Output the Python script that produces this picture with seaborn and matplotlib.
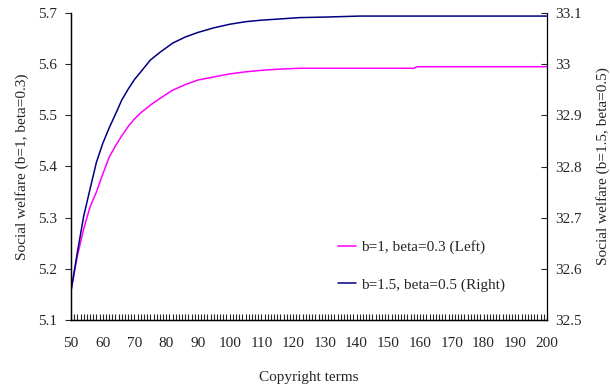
import matplotlib
matplotlib.use("Agg")
import matplotlib.pyplot as plt
import seaborn as sns
import pandas as pd
import numpy as np

# Data
terms = [50, 52, 54, 56, 58, 60, 62, 64, 66, 68, 70, 72, 75, 78, 82, 86, 90,
         95, 100, 105, 110, 115, 122, 130, 141, 158, 159, 200]
left_welfare = [5.157, 5.225, 5.278, 5.321, 5.350, 5.385, 5.418, 5.440, 5.460,
                5.478, 5.493, 5.505, 5.520, 5.533, 5.549, 5.560, 5.569, 5.575,
                5.581, 5.585, 5.588, 5.590, 5.592, 5.592, 5.592, 5.592, 5.595, 5.595]
right_welfare = [32.557, 32.632, 32.703, 32.756, 32.808, 32.845, 32.875, 32.902,
                 32.930, 32.951, 32.970, 32.985, 33.008, 33.023, 33.041, 33.053,
                 33.062, 33.071, 33.078, 33.083, 33.086, 33.088, 33.091, 33.092,
                 33.094, 33.094, 33.094, 33.094]
left_label = "b=1, beta=0.3 (Left)"
right_label = "b=1.5, beta=0.5 (Right)"
x_ticks = list(range(50, 201, 10))
left_ticks = [5.1, 5.2, 5.3, 5.4, 5.5, 5.6, 5.7]
right_ticks = [32.5, 32.6, 32.7, 32.8, 32.9, 33.0, 33.1]
right_tick_labels = ["32.5", "32.6", "32.7", "32.8", "32.9", "33", "33.1"]

sns.set_style("white")
plt.rcParams["font.family"] = ["Liberation Serif", "DejaVu Serif"]

df = pd.DataFrame({"term": terms, "left": left_welfare, "right": right_welfare})

fig, ax = plt.subplots(figsize=(6.10, 3.89), dpi=100)
fig.subplots_adjust(left=71/610, right=547/610, top=1-13/389, bottom=1-320/389)
ax2 = ax.twinx()

sns.lineplot(data=df, x="term", y="left", ax=ax, color="#FF00FF", lw=1.1,
             label=left_label, legend=False)
sns.lineplot(data=df, x="term", y="right", ax=ax2, color="#000080", lw=1.1,
             label=right_label, legend=False)

ax.set_xlim(50, 200)
ax.set_ylim(5.1, 5.7)
ax2.set_ylim(32.5, 33.1)

ax.set_xticks(x_ticks)
ax.set_xticks(np.arange(50, 201, 1), minor=True)
ax.set_yticks(left_ticks)
ax.set_yticklabels([f"{v:.1f}" for v in left_ticks])
ax2.set_yticks(right_ticks)
ax2.set_yticklabels(right_tick_labels)

fs = 11
ax.tick_params(axis="x", which="both", direction="in", length=4, width=0.8,
               pad=12.5, labelsize=fs, bottom=True, top=False)
ax.tick_params(axis="y", which="major", direction="out", length=4, width=0.8,
               pad=6, labelsize=fs, left=True, right=False)
ax2.tick_params(axis="y", which="major", direction="in", length=4, width=0.8,
                pad=6, labelsize=fs, right=True, left=False)

for a in (ax, ax2):
    a.spines["top"].set_visible(False)
    for s in ("left", "right", "bottom"):
        a.spines[s].set_color("black")
        a.spines[s].set_linewidth(0.9)
ax.spines["right"].set_visible(False)

ax.set_xlabel("Copyright terms", fontsize=fs, labelpad=15)
ax.set_ylabel("Social welfare (b=1, beta=0.3)", fontsize=fs, labelpad=6.5)
ax2.set_ylabel("Social welfare (b=1.5, beta=0.5)", fontsize=fs, labelpad=10.5,
               rotation=90)

h1, l1 = ax.get_legend_handles_labels()
h2, l2 = ax2.get_legend_handles_labels()
leg = ax2.legend(h1 + h2, l1 + l2, loc="upper left",
                 bbox_to_anchor=(0.532, 0.305), frameon=False, fontsize=fs,
                 handlelength=1.2, handletextpad=0.3, labelspacing=1.57)

fig.savefig("out.png", dpi=100)
